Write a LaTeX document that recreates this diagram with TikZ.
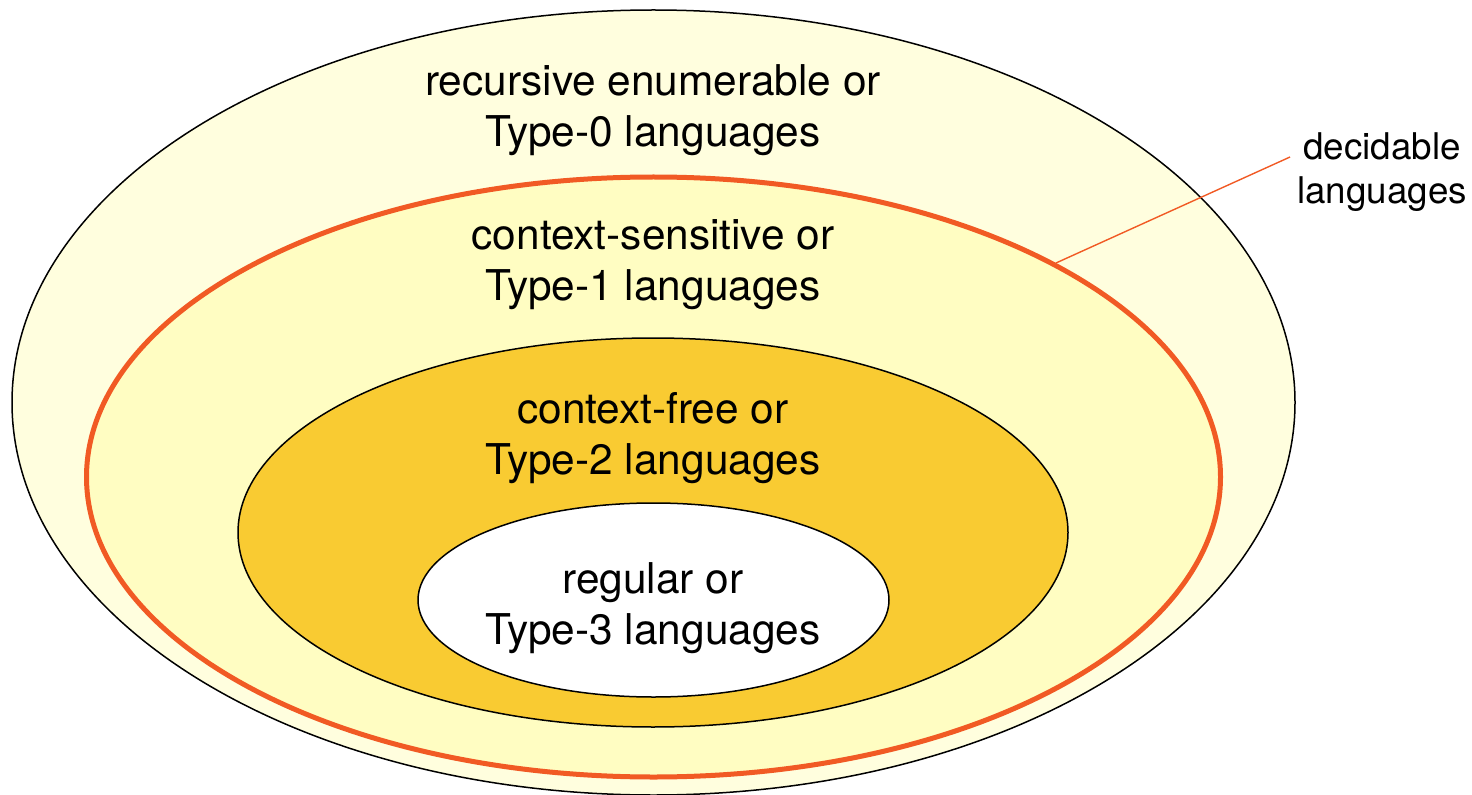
\documentclass[tikz,border=0pt]{standalone}
\usepackage{fontspec}
\setmainfont{TeX Gyre Heros}
\usetikzlibrary{shapes.geometric}
\definecolor{reFill}{HTML}{FFFEDE}
\definecolor{csFill}{HTML}{FFFDC2}
\definecolor{cfFill}{HTML}{F9CB32}
\definecolor{decLine}{HTML}{F15A24}
\tikzset{
  langset/.style={ellipse,draw,inner sep=0pt,line width=0.75pt},
  langtext/.style={align=center,font=\fontsize{21.2}{25.5}\selectfont},
}
\begin{document}
\begin{tikzpicture}[x=0.5pt,y=0.5pt]
\useasboundingbox (0,0) rectangle (1472,794);

\node[langset,fill=reFill,minimum width=641.5pt,minimum height=392.5pt] (re) at (653.5,391.5) {};
\node[langset,fill=csFill,draw=decLine,line width=2.5pt,minimum width=567pt,minimum height=300pt] (dec) at (653.5,317) {};
\node[langset,fill=cfFill,minimum width=415pt,minimum height=194.5pt] (cf) at (653,261.5) {};
\node[langset,fill=white,minimum width=235.5pt,minimum height=97pt] (reg) at (653.5,194) {};

\node[langtext] (retext) at (653,684) {recursive enumerable or\\Type-0 languages};
\node[langtext] (cstext) at (653,529) {context-sensitive or\\Type-1 languages};
\node[langtext] (cftext) at (653,356) {context-free or\\Type-2 languages};
\node[langtext] (regtext) at (653,186) {regular or\\Type-3 languages};

\node[align=center,font=\fontsize{18.4}{22}\selectfont] (declabel) at (1382,622) {decidable\\languages};
\draw[decLine,line width=0.7pt] (dec.28) -- ([yshift=7.5pt]declabel.west);
\end{tikzpicture}
\end{document}
